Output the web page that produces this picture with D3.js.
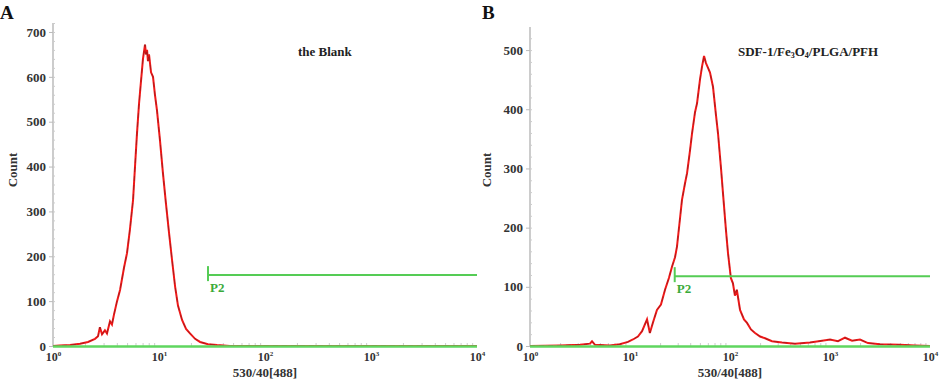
<!DOCTYPE html>
<html>
<head>
<meta charset="utf-8">
<script src="https://cdn.jsdelivr.net/npm/d3@7"></script>
<style>
  body { margin: 0; background: #fff; }
  text { font-family: "Liberation Serif", "DejaVu Serif", serif; font-weight: bold; fill: #333; }
</style>
</head>
<body>
<div id="chart"></div>
<script>
// fluorescence intensity (530/40[488]) and event count
var blankIntensity = [1.0, 1.16, 1.45, 1.8, 2.14, 2.49, 2.66, 2.77, 2.9, 3.09, 3.23, 3.45, 3.6, 3.76, 4.02, 4.29, 4.68, 4.99, 5.32, 5.69, 5.94, 6.2, 6.48, 6.76, 7.06, 7.38, 7.54, 7.71, 7.87, 8.05, 8.41, 8.78, 8.97, 9.16, 9.57, 10.2, 10.9, 11.6, 12.4, 13.3, 14.2, 15.1, 16.5, 18.0, 19.6, 21.9, 24.4, 29.0, 35.3, 46.7, 10000];
var blankCount = [0, 1, 2, 5, 9, 16, 22, 42, 26, 35, 28, 55, 48, 70, 100, 125, 175, 207, 260, 325, 400, 474, 540, 590, 640, 672, 650, 660, 635, 650, 610, 600, 580, 560, 525, 460, 385, 320, 255, 190, 132, 90, 58, 38, 28, 16, 9, 4, 2, 0, 0];

var sdfIntensity = [1.0, 2.0, 3.16, 3.98, 4.17, 4.47, 6.3, 7.9, 9.55, 10.7, 12.0, 13.2, 14.8, 15.8, 17.0, 18.6, 20.4, 22.4, 24.5, 26.3, 28.2, 29.5, 31.6, 33.1, 35.5, 37.2, 39.8, 41.7, 44.7, 46.8, 50.1, 52.5, 55.0, 57.5, 60.3, 63.1, 67.6, 72.4, 75.9, 81.3, 85.1, 91.2, 95.5, 102, 107, 112, 117, 126, 138, 148, 162, 178, 200, 224, 263, 331, 447, 631, 832, 1000, 1202, 1413, 1660, 1995, 2399, 3162, 5012, 7079, 10000];
var sdfCount = [0, 1, 2, 4, 8, 2, 1, 3, 7, 11, 16, 25, 45, 22, 40, 61, 70, 95, 115, 134, 150, 168, 215, 247, 275, 292, 330, 359, 395, 410, 450, 472, 490, 478, 470, 462, 438, 390, 359, 300, 258, 195, 157, 115, 106, 85, 95, 61, 45, 39, 28, 22, 16, 13, 8, 6, 4, 6, 9, 11, 8, 14, 9, 11, 5, 3, 2, 1, 0];

var xTickExponents = [0, 1, 2, 3, 4];
var yTicksBlank = [0, 100, 200, 300, 400, 500, 600, 700];
var yTicksSdf = [0, 100, 200, 300, 400, 500];

// P2 gate: start intensity and count level
var gateBlank = {start: 29, level: 158};
var gateSdf = {start: 28, level: 118};

var svg = d3.select("#chart").append("svg")
  .attr("width", 945)
  .attr("height", 381);

function drawPanel(p) {
  var x = d3.scaleLog().domain([1, 10000]).range([p.left, p.right]);
  var y = d3.scaleLinear().domain([0, p.yMax]).range([346, p.top]);

  var g = svg.append("g");

  // panel letter
  g.append("text")
    .attr("x", p.letterX).attr("y", 19)
    .style("font-size", "19px").style("fill", "#111")
    .text(p.letter);

  // y axis
  var yAxis = g.append("g")
    .attr("transform", "translate(" + p.left + ",0)")
    .call(d3.axisLeft(y).tickValues(p.yTicks).tickSize(4).tickPadding(3));
  yAxis.select(".domain").attr("stroke", "#ccc").attr("stroke-width", 2)
    .attr("d", "M0," + p.top + "V346");
  yAxis.selectAll(".tick line").attr("stroke", "#bbb");
  yAxis.selectAll(".tick text")
    .style("font-family", "Liberation Serif")
    .style("font-weight", "bold")
    .style("font-size", "13px")
    .attr("fill", "#333");

  // minor y ticks
  g.append("g")
    .attr("transform", "translate(" + p.left + ",0)")
    .call(d3.axisLeft(y).ticks(p.yMax / 25).tickSize(-2).tickFormat(""))
    .call(function(a) { a.select(".domain").remove(); a.selectAll("line").attr("stroke", "#ccc"); });

  // x axis (log)
  var xAxis = g.append("g")
    .attr("transform", "translate(0,346)")
    .call(d3.axisBottom(x).tickValues(xTickExponents.map(function(e) { return Math.pow(10, e); }))
      .tickSize(0).tickPadding(6).tickFormat(""));
  xAxis.select(".domain").remove();
  xAxis.selectAll(".tick text")
    .data(xTickExponents)
    .style("font-family", "Liberation Serif")
    .style("font-weight", "bold")
    .style("font-size", "12px")
    .attr("fill", "#333")
    .each(function(e) {
      var t = d3.select(this);
      t.append("tspan").text("10");
      t.append("tspan").attr("dy", "-5").style("font-size", "7px").text(e);
    });

  // minor log ticks along baseline
  var minor = [];
  for (var e = 0; e < 4; e++) for (var k = 2; k < 10; k++) minor.push(k * Math.pow(10, e));
  g.append("g")
    .attr("transform", "translate(0,346)")
    .call(d3.axisTop(x).tickValues(minor).tickSize(3).tickFormat(""))
    .call(function(a) { a.select(".domain").remove(); a.selectAll("line").attr("stroke", "#ccc"); });

  // axis titles
  g.append("text")
    .attr("x", (p.left + p.right) / 2).attr("y", 377)
    .attr("text-anchor", "middle")
    .style("font-size", "13px")
    .text("530/40[488]");
  g.append("text")
    .attr("transform", "translate(" + p.countX + ",170) rotate(-90)")
    .attr("text-anchor", "middle")
    .style("font-size", "13px")
    .text("Count");

  // histogram
  var data = p.intensity.map(function(v, i) { return {i: v, c: p.count[i]}; });
  var line = d3.line().x(function(d) { return x(d.i); }).y(function(d) { return y(d.c); });
  g.append("path").datum(data)
    .attr("d", line).attr("fill", "none")
    .attr("stroke", "#f01818").attr("stroke-width", 2);
  g.append("path").datum(data)
    .attr("d", line).attr("fill", "none")
    .attr("stroke", "#222").attr("stroke-width", 0.7).attr("stroke-opacity", 0.45)
    .attr("stroke-dasharray", "5,4");

  // green baseline
  g.append("line")
    .attr("x1", x(1)).attr("x2", x(10000))
    .attr("y1", y(0) + 0.5).attr("y2", y(0) + 0.5)
    .attr("stroke", "#5fd65f").attr("stroke-width", 2.5);

  // gate P2
  var gx = x(p.gate.start), gy = y(p.gate.level);
  g.append("line")
    .attr("x1", gx).attr("x2", x(10000)).attr("y1", gy).attr("y2", gy)
    .attr("stroke", "#55cc55").attr("stroke-width", 2);
  g.append("line")
    .attr("x1", gx).attr("x2", gx).attr("y1", gy - 9).attr("y2", gy + 6)
    .attr("stroke", "#55cc55").attr("stroke-width", 2);
  g.append("text")
    .attr("x", gx + 2).attr("y", gy + 17)
    .style("font-size", "13px").style("fill", "#3aaa3a")
    .text("P2");

  // sample name
  var title = g.append("text")
    .attr("x", p.titleX).attr("y", 56)
    .style("font-size", "13px").style("fill", "#222");
  p.title.forEach(function(part) {
    var ts = title.append("tspan").text(part.t);
    if (part.sub) ts.style("font-size", "8px").attr("dy", "2");
    else if (part.up) ts.attr("dy", "-2");
  });
}

drawPanel({
  letter: "A", letterX: 0, left: 53, right: 477, top: 23, yMax: 720,
  yTicks: yTicksBlank, intensity: blankIntensity, count: blankCount,
  gate: gateBlank, countX: 17, titleX: 298,
  title: [{t: "the Blank"}]
});

drawPanel({
  letter: "B", letterX: 482, left: 530, right: 930, top: 27, yMax: 539,
  yTicks: yTicksSdf, intensity: sdfIntensity, count: sdfCount,
  gate: gateSdf, countX: 491, titleX: 738,
  title: [{t: "SDF-1/Fe"}, {t: "3", sub: true}, {t: "O", up: true}, {t: "4", sub: true}, {t: "/PLGA/PFH", up: true}]
});
</script>
</body>
</html>
